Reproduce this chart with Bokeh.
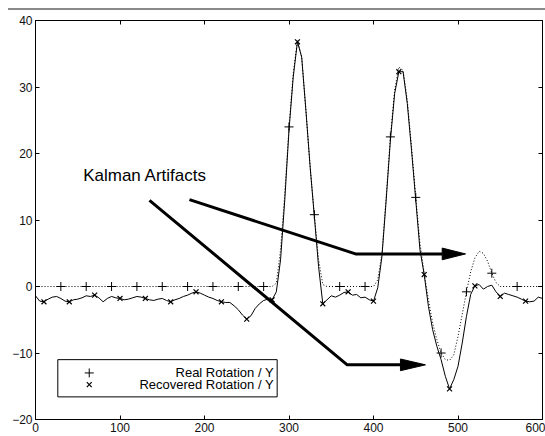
from bokeh.plotting import figure
from bokeh.models import Range1d, LinearAxis, FixedTicker
from bokeh.core.properties import value
from bokeh.embed import file_html
from bokeh.resources import INLINE

# ---------------- data ----------------
samples = list(range(0, 601, 5))

real_rotation = [
    0, 0, 0, 0, 0, 0, 0, 0, 0, 0,
    0, 0, 0, 0, 0, 0, 0, 0, 0, 0,
    0, 0, 0, 0, 0, 0, 0, 0, 0, 0,
    0, 0, 0, 0, 0, 0, 0, 0, 0, 0,
    0, 0, 0, 0, 0, 0, 0, 0, 0, 0,
    0, 0, 0, 0, 0, 0, 0, 0.5, 5.5, 14.0,
    24.0, 32.0, 37.0, 34.5, 26.5, 18.0, 10.8, 4.0, 0.3, 0,
    0, 0, 0, 0, 0, 0, 0, 0, 0, 0,
    0, 1.0, 5.0, 13.5, 22.5, 29.5, 33.0, 32.5, 28.0, 21.0,
    13.4, 6.5, 2.0, -2.0, -5.5, -8.0, -10.0, -11.0, -11.1, -10.3,
    -7.5, -4.2, -0.8, 2.2, 4.3, 5.3, 5.0, 3.8, 2.0, 0.6,
    0, 0, 0, 0, 0, 0, 0, 0, 0, 0,
    0,
]

recovered_rotation = [
    -1.4, -2.2, -2.3, -1.9, -1.6, -1.5, -1.8, -2.2, -2.3, -2.0,
    -1.9, -1.7, -1.4, -1.5, -1.3, -1.7, -2.3, -1.8, -1.5, -1.7,
    -1.8, -2.0, -1.9, -1.7, -1.5, -1.6, -1.8, -2.0, -2.1, -1.9,
    -1.8, -2.1, -2.3, -2.0, -1.8, -1.5, -1.3, -1.0, -0.8, -1.0,
    -1.3, -1.6, -1.8, -2.1, -2.3, -2.4, -2.4, -2.9, -3.5, -4.3,
    -4.9, -4.4, -3.3, -2.6, -2.1, -1.9, -2.0, -0.8, 4.0, 13.0,
    23.5, 31.5, 36.8, 34.5, 26.5, 18.0, 10.5, 3.0, -2.6, -2.0,
    -1.4, -1.6, -1.3, -0.9, -0.8, -1.3, -1.2, -1.7, -1.6, -2.0,
    -2.2, -0.2, 4.5, 13.0, 22.0, 29.0, 32.3, 32.3, 27.5, 20.5,
    13.0, 5.5, 1.8, -3.0, -6.5, -9.0, -11.0, -13.5, -15.4, -14.0,
    -12.0, -8.5, -4.5, -1.2, 0.1, 0.3, -0.4, 0.0, 0.2, -0.8,
    -1.5, -1.0, -1.2, -1.4, -1.6, -1.9, -2.2, -2.3, -2.2, -1.6,
    -1.8,
]

x_ticks = [0, 100, 200, 300, 400, 500, 600]
y_ticks = [-20, -10, 0, 10, 20, 30, 40]

series_names = ["Real Rotation / Y", "Recovered Rotation / Y"]
annotation_text = "Kalman Artifacts"

# annotation geometry (data units)
arrow_upper_x = [182.2, 378.7, 481.3]
arrow_upper_y = [13.06, 4.9, 4.9]
arrow_upper_tip = 508.9
arrow_lower_x = [134.9, 368.9, 431.9]
arrow_lower_y = [12.96, -11.78, -11.78]
arrow_lower_tip = 461.5
head_half = 0.88

legend_box = dict(left=26.4, right=286.0, top=-11.0, bottom=-16.6)
legend_marker_x = 63.6
legend_text_x = 282.0
legend_rows_y = [-13.0, -14.75]

FONT = "Liberation Sans"

# ---------------- figure ----------------
p = figure(width=545, height=436, output_backend="svg", toolbar_location=None,
           x_range=Range1d(0, 600), y_range=Range1d(-20, 40),
           min_border_left=35, min_border_right=3, min_border_top=20, min_border_bottom=17)

p.xgrid.visible = False
p.ygrid.visible = False
p.outline_line_color = "black"
p.outline_line_width = 1
p.background_fill_color = "white"
p.border_fill_color = "white"
p.border_fill_alpha = 0.0
p.styles = {
    "background-color": "white",
    "background-image": "linear-gradient(#8a8a8a, #8a8a8a)",
    "background-repeat": "no-repeat",
    "background-position": "8px 8px",
    "background-size": "537px 2px",
}

def style_axis(ax, ticks, show_labels):
    ax.ticker = FixedTicker(ticks=ticks)
    ax.major_tick_in = 4
    ax.major_tick_out = 0
    ax.minor_tick_line_color = None
    ax.axis_line_color = "black"
    ax.major_tick_line_color = "black"
    ax.major_label_text_font = FONT
    if show_labels:
        ax.major_label_text_color = "#111111"
        ax.major_label_text_font_size = "12px"
        ax.major_label_standoff = 3
    else:
        ax.major_label_text_color = None
        ax.major_label_text_font_size = "1px"
        ax.major_label_standoff = 0

style_axis(p.xaxis[0], x_ticks, True)
style_axis(p.yaxis[0], y_ticks, True)
top_ax = LinearAxis()
right_ax = LinearAxis()
style_axis(top_ax, x_ticks, False)
style_axis(right_ax, y_ticks, False)
p.add_layout(top_ax, "above")
p.add_layout(right_ax, "right")

# series
p.line(samples, real_rotation, line_color="black", line_width=1, line_dash="1 2")
p.line(samples, recovered_rotation, line_color="black", line_width=1)
p.scatter(samples[0::6], real_rotation[0::6], marker="cross", size=9,
          line_color="black", line_width=1)
p.scatter(samples[2::6], recovered_rotation[2::6], marker="x", size=7,
          line_color="black", line_width=1.2)

# arrows
for xs, ys, tip in [(arrow_upper_x, arrow_upper_y, arrow_upper_tip),
                    (arrow_lower_x, arrow_lower_y, arrow_lower_tip)]:
    p.line(xs, ys, line_color="black", line_width=3, line_join="round")
    base = xs[-1]
    yc = ys[-1]
    p.patch([base, tip, base], [yc + head_half, yc, yc - head_half],
            fill_color="black", line_color="black", line_width=1)

p.text(x=[56.4], y=[16.7], text=[annotation_text], text_font=value(FONT),
       text_font_size="17px", text_baseline="middle", text_align="left",
       text_color="black")

# legend
p.quad(left=[legend_box["left"]], right=[legend_box["right"]],
       top=[legend_box["top"]], bottom=[legend_box["bottom"]],
       fill_color="white", line_color="black", line_width=1)
p.scatter([legend_marker_x], [legend_rows_y[0]], marker="cross", size=9,
          line_color="black", line_width=1)
p.scatter([legend_marker_x], [legend_rows_y[1]], marker="x", size=7,
          line_color="black", line_width=1.2)
p.text(x=[legend_text_x, legend_text_x], y=legend_rows_y, text=series_names,
       text_font=value(FONT), text_font_size="13px", text_baseline="middle",
       text_align="right", text_color="black")

open("out.html", "w").write(file_html(p, INLINE))
